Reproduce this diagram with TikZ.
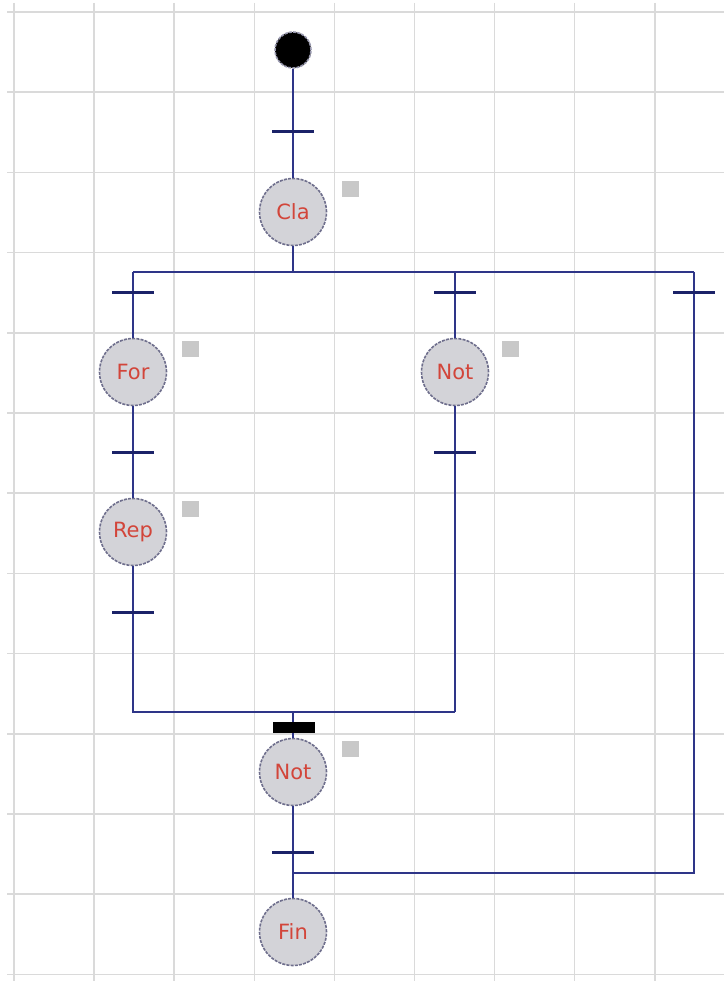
\documentclass[tikz,border=0pt]{standalone}
\usepackage{fontspec}
\setmainfont{DejaVu Sans}
\definecolor{gridc}{HTML}{DADADA}
\definecolor{wire}{HTML}{2E3588}
\definecolor{barc}{HTML}{1B2268}
\definecolor{stepfill}{HTML}{D3D3D8}
\definecolor{stepline}{HTML}{6E6E8C}
\definecolor{steptext}{HTML}{D2453A}
\definecolor{tagc}{HTML}{C8C8C8}

\begin{document}
\begin{tikzpicture}[x=1pt,y=-1pt,font=\fontsize{21}{24}\selectfont,
  stepnode/.style={circle,minimum size=67pt,inner sep=0pt,fill=stepfill,
    draw=stepline,line width=1.6pt,dash pattern=on 3pt off 1.2pt,text=steptext},
  initnode/.style={circle,minimum size=36pt,inner sep=0pt,fill=black,
    draw=stepline!70,line width=1.6pt,dash pattern=on 3pt off 1.2pt},
  trans/.style={rectangle,fill=barc,minimum width=42pt,minimum height=3pt,inner sep=0pt},
  syncbar/.style={rectangle,fill=black,minimum width=42pt,minimum height=11pt,inner sep=0pt},
  tagbox/.style={rectangle,fill=tagc,minimum width=17pt,minimum height=16pt,inner sep=0pt},
  link/.style={wire,line width=1.6pt}]
  \useasboundingbox (0,0) rectangle (724,981);
  % grid
  \foreach \i in {0,...,8}
    \draw[gridc,line width=1.5pt] (14+80.1*\i,3) -- (14+80.1*\i,981);
  \foreach \j in {0,...,12}
    \draw[gridc,line width=1.5pt] (7,12+80.2*\j) -- (724,12+80.2*\j);

  % steps
  \node[initnode] (init) at (293,50) {};
  \node[stepnode] (cla) at (293,212) {Cla};
  \node[stepnode] (for) at (133,372) {For};
  \node[stepnode] (rep) at (133,532) {Rep};
  \node[stepnode] (nota) at (455,372) {Not};
  \node[stepnode] (notb) at (293,772) {Not};
  \node[stepnode] (fin) at (293,932) {Fin};

  \node[tagbox] (tcla) at (350,189) {};
  \node[tagbox] (tfor) at (190,349) {};
  \node[tagbox] (trep) at (190,509) {};
  \node[tagbox] (tnota) at (510,349) {};
  \node[tagbox] (tnotb) at (350,749) {};

  % wires
  \coordinate (split) at (293,272);
  \coordinate (splitl) at (133,272);
  \coordinate (splitm) at (455,272);
  \coordinate (splitr) at (694,272);
  \coordinate (joinl) at (133,712);
  \coordinate (joinm) at (293,712);
  \coordinate (joinr) at (455,712);
  \coordinate (skip) at (694,873);
  \coordinate (skipm) at (293,873);

  \draw[link] (init) -- (cla);
  \draw[link] (cla) -- (split);
  \draw[link] (splitl) -- (splitr);
  \draw[link] (splitl) -- (for);
  \draw[link] (for) -- (rep);
  \draw[link] (rep) -- (joinl) -- (joinr);
  \draw[link] (splitm) -- (nota);
  \draw[link] (nota) -- (joinr);
  \draw[link] (joinm) -- (notb);
  \draw[link] (notb) -- (fin);
  \draw[link] (splitr) -- (skip) -- (skipm);

  % transitions
  \node[trans] (t1) at (293,132) {};
  \node[trans] (t2) at (133,292) {};
  \node[trans] (t3) at (455,292) {};
  \node[trans] (t4) at (694,292) {};
  \node[trans] (t5) at (133,452) {};
  \node[trans] (t6) at (455,452) {};
  \node[trans] (t7) at (133,612) {};
  \node[syncbar] (t8) at (294,727) {};
  \node[trans] (t9) at (293,852) {};
\end{tikzpicture}
\end{document}
